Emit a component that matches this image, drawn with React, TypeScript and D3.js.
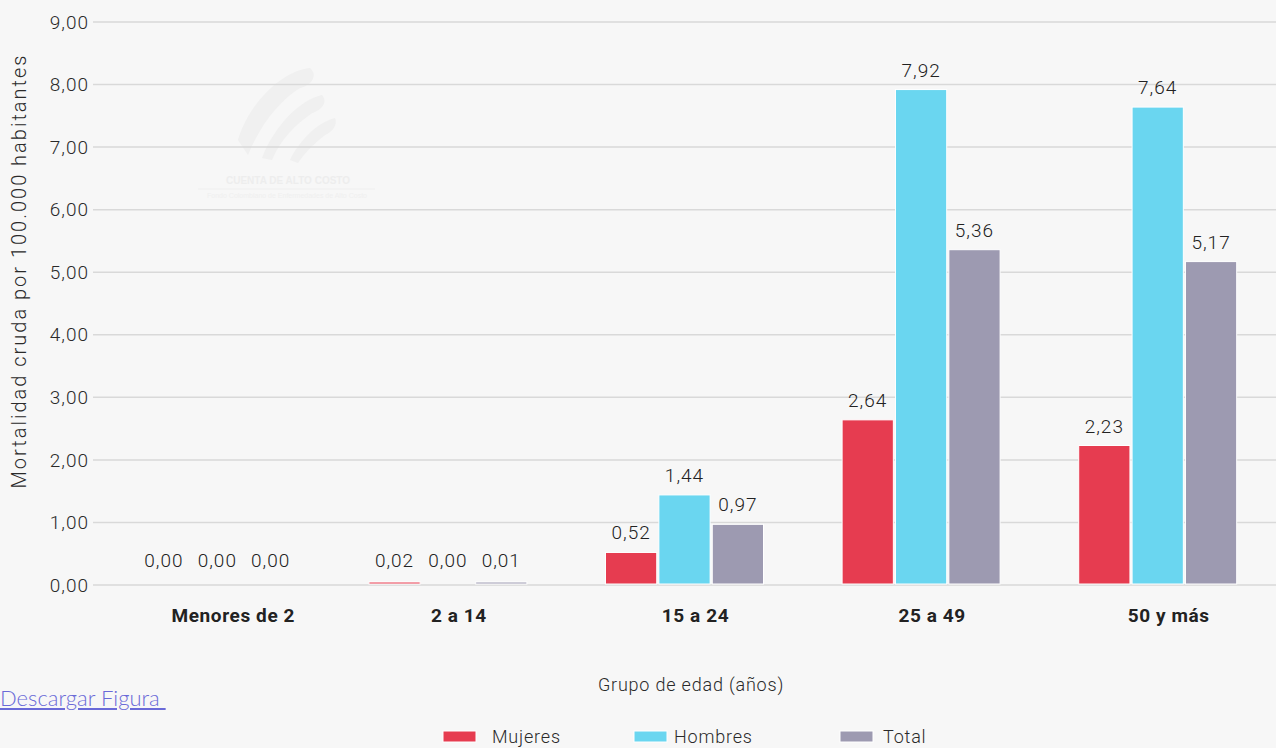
import React from "react";
import * as d3 from "d3";

const categories = ["Menores de 2", "2 a 14", "15 a 24", "25 a 49", "50 y más"];
const seriesNames = ["Mujeres", "Hombres", "Total"];
const mujeres = [0.0, 0.02, 0.52, 2.64, 2.23];
const hombres = [0.0, 0.0, 1.44, 7.92, 7.64];
const total = [0.0, 0.01, 0.97, 5.36, 5.17];
const yTicks = [0, 1, 2, 3, 4, 5, 6, 7, 8, 9];
const colors = ["#e63c50", "#6ad6f0", "#9d9ab1"];

const W = 1276;
const H = 748;
const FONT = "Roboto, 'DejaVu Sans', sans-serif";
const fmt = (v: number) => v.toFixed(2).replace(".", ",");

export default function App() {
  React.useEffect(() => {
    document.body.style.margin = "0";
    document.body.style.background = "#f7f7f7";
  }, []);
  const series = [mujeres, hombres, total];
  const x = d3.scaleBand<string>().domain(categories).range([93, 1276]);
  const half = x.bandwidth() / 2;
  const xs = d3.scaleBand<string>().domain(seriesNames).range([half - 79, half + 79]).paddingInner(0.04);
  const y = d3.scaleLinear().domain([0, 9]).range([585, 22]);

  const legendX = [443, 634, 840];
  const legendTextX = [492, 674, 883];

  return (
    <div style={{ position: "relative", width: W, height: H, background: "#f7f7f7" }}>
      <svg width={W} height={H} style={{ position: "absolute", left: 0, top: 0, fontFamily: FONT, fontWeight: 300 }}>
        <rect x={0} y={0} width={W} height={H} fill="#f7f7f7" />
        {/* watermark */}
        <g opacity={0.6}>
          <path d="M238,140 C250,100 285,70 310,68 C318,75 312,85 300,88 C280,100 260,125 248,155 Z" fill="#ececec" />
          <path d="M262,158 C275,125 300,100 322,95 C328,102 322,110 312,113 C295,125 280,140 272,160 Z" fill="#ececec" />
          <path d="M290,160 C300,140 318,122 335,118 C338,125 332,132 325,135 C312,145 303,155 298,163 Z" fill="#ececec" />
          <text x={288} y={184} textAnchor="middle" fontSize={10} fontWeight="bold" fill="#e8e8e8" fontFamily="'Liberation Sans', sans-serif">CUENTA DE ALTO COSTO</text>
          <line x1={198} x2={375} y1={189} y2={189} stroke="#ececec" />
          <text x={287} y={198} textAnchor="middle" fontSize={7} fill="#ebebeb" fontFamily="'Liberation Sans', sans-serif">Fondo Colombiano de Enfermedades de Alto Costo</text>
        </g>
        {yTicks.map((t) => (
          <g key={t}>
            <line x1={93} x2={W} y1={y(t)} y2={y(t)} stroke="#d9d9d9" strokeWidth={1.5} />
            <text x={89} y={y(t)} dy="0.35em" textAnchor="end" fontSize={19} fill="#2a2a2a" letterSpacing={1}>
              {fmt(t)}
            </text>
          </g>
        ))}
        {categories.map((c, ci) => (
          <g key={c} transform={`translate(${x(c)},0)`}>
            {seriesNames.map((s, si) => {
              const v = series[si][ci];
              const bx = xs(s)!;
              const bw = xs.bandwidth();
              const top = v > 0 ? Math.min(y(v), 582) : y(0);
              return (
                <g key={s}>
                  {v > 0 && (
                    <rect x={bx} y={top} width={bw} height={Math.max(0, 584 - top)} fill={colors[si]} stroke="#ffffff" strokeWidth={1} />
                  )}
                  <text x={bx + bw / 2 + (ci === 0 ? 6 : 0)} y={Math.min(y(v) - 13, 567)} textAnchor="middle" fontSize={19} fill="#222" letterSpacing={1}>
                    {fmt(v)}
                  </text>
                </g>
              );
            })}
            <text x={half + (ci === 0 ? 22 : 11)} y={622} textAnchor="middle" fontSize={19} fontWeight="bold" fill="#222" letterSpacing={0.6}>
              {c}
            </text>
          </g>
        ))}
        <text transform={`translate(26,271) rotate(-90)`} textAnchor="middle" fontSize={20} fill="#2a2a2a" letterSpacing={2}>
          Mortalidad cruda por 100.000 habitantes
        </text>
        <text x={691} y={691} textAnchor="middle" fontSize={18} fill="#2a2a2a" letterSpacing={0.8}>
          Grupo de edad (años)
        </text>
        {seriesNames.map((s, i) => (
          <g key={s}>
            <rect x={legendX[i]} y={731} width={33} height={11} fill={colors[i]} stroke="#fff" strokeWidth={1} />
            <text x={legendTextX[i]} y={743} fontSize={18} fill="#2a2a2a" letterSpacing={0.8}>
              {s}
            </text>
          </g>
        ))}
      </svg>
      <a href="#" style={{ position: "absolute", left: 0, top: 684, fontFamily: "Lato, sans-serif", fontSize: 22, fontWeight: 300, color: "#6a6ad8", textDecoration: "underline" }}>
        Descargar Figura&nbsp;
      </a>
    </div>
  );
}
